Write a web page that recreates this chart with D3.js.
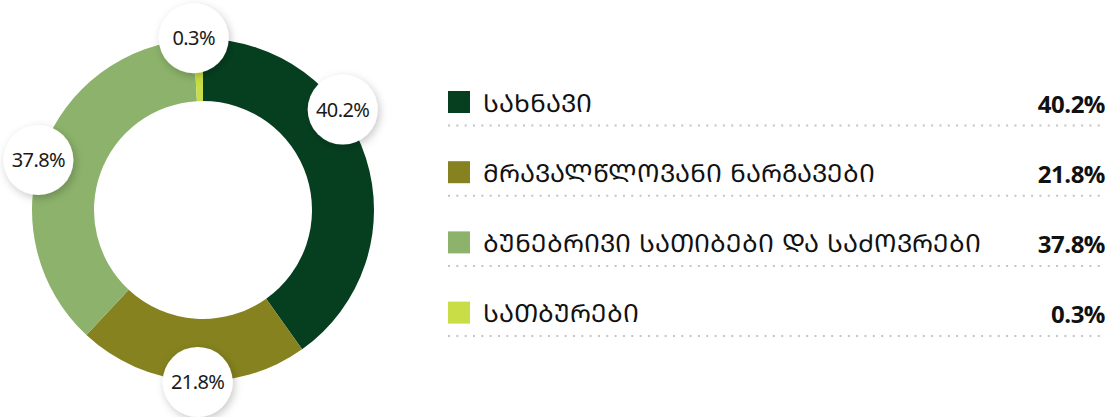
<!DOCTYPE html>
<html><head><meta charset="utf-8">
<script src="https://cdn.jsdelivr.net/npm/d3@7"></script>
<style>body{margin:0;background:#fff}svg{display:block}</style>
</head><body><svg id="c" width="1113" height="417"></svg>
<script>
const categories = ["სახნავი", "მრავალწლოვანი ნარგავები", "ბუნებრივი სათიბები და საძოვრები", "სათბურები"];
const values = [40.2, 21.8, 37.8, 0.3];
const valueLabels = ["40.2%", "21.8%", "37.8%", "0.3%"];
const colors = ["#063f20", "#85821f", "#8cb26b", "#c9dd46"];

// Mkhedruli -> Mtavruli (Georgian capitals) as in the reference
const toMtavruli = s => Array.from(s).map(ch => {
  const c = ch.codePointAt(0);
  return (c >= 0x10D0 && c <= 0x10FA) ? String.fromCodePoint(c - 0x10D0 + 0x1C90) : ch;
}).join("");

const svg = d3.select("#c");
const defs = svg.append("defs");
const f = defs.append("filter").attr("id", "sh").attr("x", "-50%").attr("y", "-50%").attr("width", "200%").attr("height", "200%");
f.append("feDropShadow").attr("dx", 2).attr("dy", 3).attr("stdDeviation", 4).attr("flood-color", "#000").attr("flood-opacity", 0.22);

const cx = 203, cy = 210, R = 171, r = 109;
const pie = d3.pie().sort(null).value(d => d.v);
const data = values.map((v, i) => ({v, i}));
const arcs = pie(data);
// minimum visible slice angle (small slice rendered wider, as in reference)
const minA = 3.2 * Math.PI / 180;
for (let k = 0; k < arcs.length; k++) {
  const a = arcs[k];
  if (a.endAngle - a.startAngle < minA && k > 0) {
    a.startAngle = a.endAngle - minA;
    arcs[k - 1].endAngle = a.startAngle;
  }
}
const arc = d3.arc().innerRadius(r).outerRadius(R);
const g = svg.append("g").attr("transform", `translate(${cx},${cy})`);
g.selectAll("path").data(arcs).join("path").attr("d", arc).attr("fill", d => colors[d.data.i]);

// label bubbles on outer edge
const labelNudge = [-18, -2, -3, -1.5]; // degrees
const lr = 172;
const lg = g.selectAll("g.lab").data(arcs).join("g").attr("class", "lab")
  .attr("transform", d => {
    const a = (d.startAngle + d.endAngle) / 2 + labelNudge[d.data.i] * Math.PI / 180;
    return `translate(${lr * Math.sin(a)},${-lr * Math.cos(a)})`;
  });
lg.append("circle").attr("r", 35).attr("fill", "#fff").attr("filter", "url(#sh)");
lg.append("text").attr("text-anchor", "middle").attr("dy", "0.36em")
  .attr("font-family", "'Noto Sans', 'Open Sans', sans-serif").attr("font-size", 20).attr("letter-spacing", -0.6).attr("fill", "#1a1a1a")
  .text(d => valueLabels[d.data.i]);

// legend
const y = d3.scaleBand().domain(d3.range(categories.length)).range([91, 91 + 70.2 * 4]).paddingInner(0).paddingOuter(0);
const x0 = 448, x1 = 1106;
const leg = svg.append("g").selectAll("g").data(categories).join("g")
  .attr("transform", (d, i) => `translate(0,${y(i)})`);
leg.append("rect").attr("x", x0).attr("y", 0).attr("width", 22).attr("height", 22).attr("fill", (d, i) => colors[i]);
leg.append("text").attr("x", x0 + 35).attr("y", 20.5)
  .attr("font-family", "'DejaVu Sans', 'Noto Sans', sans-serif").attr("font-size", 25).attr("fill", "#111")
  .text(d => toMtavruli(d));
leg.append("text").attr("x", x1 - 1).attr("y", 21.5).attr("text-anchor", "end")
  .attr("font-family", "'Open Sans', 'Noto Sans', sans-serif").attr("font-weight", 700).attr("font-size", 24).attr("letter-spacing", -0.5).attr("fill", "#111")
  .text((d, i) => valueLabels[i]);
leg.append("line").attr("x1", x0).attr("x2", x1).attr("y1", 34.5).attr("y2", 34.5)
  .attr("stroke", "#c4c4c4").attr("stroke-width", 2).attr("stroke-dasharray", "2 6.33");
</script></body></html>
